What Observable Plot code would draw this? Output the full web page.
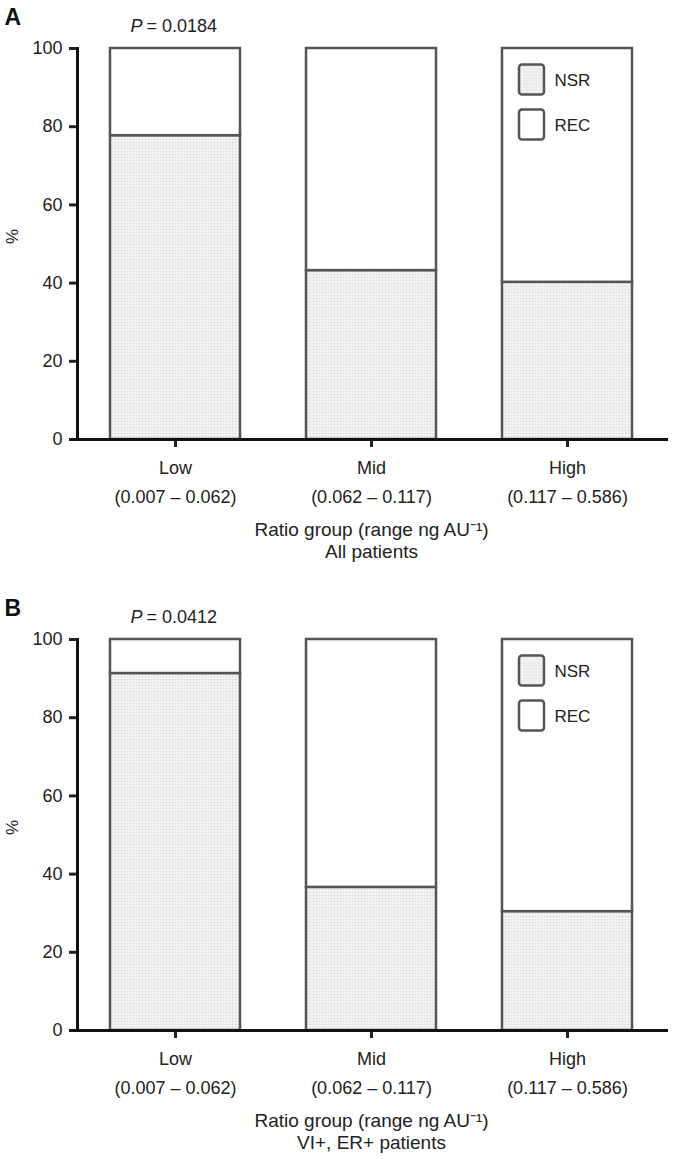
<!DOCTYPE html>
<html>
<head>
<meta charset="utf-8">
<script src="https://cdn.jsdelivr.net/npm/d3@7"></script>
<script src="https://cdn.jsdelivr.net/npm/@observablehq/plot@0.6"></script>
<style>
  body { margin: 0; background: white; }
  #chart svg { display: block; }
</style>
</head>
<body>
<div id="chart"></div>
<script>
const categories = ["Low", "Mid", "High"];
const ranges = ["(0.007 \u2013 0.062)", "(0.062 \u2013 0.117)", "(0.117 \u2013 0.586)"];
const nsrAll = [77.7, 43.2, 40.2];
const nsrVIER = [91.3, 36.6, 30.4];
const yTicks = [0, 20, 40, 60, 80, 100];
const legendLabels = ["NSR", "REC"];
const panelLetters = ["A", "B"];
const pValues = ["= 0.0184", "= 0.0412"];
const xTitle = "Ratio group (range ng AU\u207B\u00B9)";
const subgroups = ["All patients", "VI+, ER+ patients"];

const font = "'Liberation Sans', Arial, Helvetica, sans-serif";
const edge = "#555";

const swatch = {
  draw(ctx) {
    const w = 12.5, h = 15, r = 3;
    ctx.moveTo(-w + r, -h);
    ctx.arcTo(w, -h, w, h, r);
    ctx.arcTo(w, h, -w, h, r);
    ctx.arcTo(-w, h, -w, -h, r);
    ctx.arcTo(-w, -h, w, -h, r);
    ctx.closePath();
  }
};

function panel(idx, nsr, height, marginBottom) {
  const patId = "stipple" + idx;
  const fillPat = `url(#${patId})`;
  const rows = categories.map((c, i) => ({group: c, nsr: nsr[i], range: ranges[i]}));
  const legendNSR = [{group: "High", label: legendLabels[0]}];
  const legendREC = [{group: "High", label: legendLabels[1]}];
  const mid = {lineAnchor: "middle"};
  const svg = Plot.plot({
    width: 673,
    height,
    marginTop: 48,
    marginBottom,
    marginLeft: 77,
    marginRight: 8,
    style: {fontFamily: font, fontSize: "18px", color: "#222", background: "white", overflow: "visible"},
    x: {domain: categories, paddingInner: 0.337, paddingOuter: 0.1685, axis: null},
    y: {domain: [0, 100], axis: null},
    marks: [
      Plot.barY(rows, {x: "group", y1: 0, y2: "nsr", fill: fillPat, stroke: edge, strokeWidth: 2.5}),
      Plot.barY(rows, {x: "group", y1: "nsr", y2: 100, fill: "white", stroke: edge, strokeWidth: 2.5}),
      Plot.axisY({ticks: yTicks, tickSize: 8, tickPadding: 7, strokeWidth: 3, label: null, fontSize: 18}),
      Plot.frame({anchor: "left", strokeWidth: 3, stroke: "#111"}),
      Plot.axisX({tickSize: 8, tickFormat: () => "", label: null, strokeWidth: 3}),
      Plot.ruleY([0], {strokeWidth: 3, stroke: "#111", insetLeft: -7, insetRight: -3}),
      Plot.text(rows, {x: "group", text: "group", frameAnchor: "bottom", dy: 29, fontSize: 18, ...mid}),
      Plot.text(rows, {x: "group", text: "range", frameAnchor: "bottom", dy: 58, fontSize: 18, ...mid}),
      Plot.text([xTitle], {text: d => d, frameAnchor: "bottom", dy: 90, fontSize: 19, ...mid}),
      Plot.text([subgroups[idx]], {text: d => d, frameAnchor: "bottom", dy: 112, fontSize: 19, ...mid}),
      Plot.text(["%"], {text: d => d, frameAnchor: "left", dx: -65, rotate: -90, fontSize: 17, ...mid}),
      Plot.text([panelLetters[idx]], {text: d => d, frameAnchor: "top-left", dx: -73, dy: -31, textAnchor: "start", fontWeight: "bold", fontSize: 23, fill: "#111", ...mid}),
      Plot.text([{group: "Low"}], {x: "group", text: () => "P", frameAnchor: "top", dy: -22, dx: -33, textAnchor: "end", fontStyle: "italic", fontSize: 18, ...mid}),
      Plot.text([{group: "Low"}], {x: "group", text: () => pValues[idx], frameAnchor: "top", dy: -22, dx: -29, textAnchor: "start", fontSize: 18, ...mid}),
      Plot.dot(legendNSR, {x: "group", frameAnchor: "top", dx: -36, dy: 31, symbol: swatch, fill: fillPat, stroke: edge, strokeWidth: 2.5}),
      Plot.dot(legendREC, {x: "group", frameAnchor: "top", dx: -36, dy: 76, symbol: swatch, fill: "white", stroke: edge, strokeWidth: 2.5}),
      Plot.text(legendNSR, {x: "group", text: "label", frameAnchor: "top", dx: -13, dy: 32, textAnchor: "start", fontSize: 17, ...mid}),
      Plot.text(legendREC, {x: "group", text: "label", frameAnchor: "top", dx: -13, dy: 77, textAnchor: "start", fontSize: 17, ...mid})
    ]
  });
  const d3svg = d3.select(svg);
  const pat = d3svg.insert("defs", ":first-child").append("pattern")
    .attr("id", patId).attr("width", 3).attr("height", 3).attr("patternUnits", "userSpaceOnUse");
  pat.append("rect").attr("width", 3).attr("height", 3).attr("fill", "#f3f3f3");
  pat.append("circle").attr("cx", 1.5).attr("cy", 1.5).attr("r", 0.8).attr("fill", "#d9d9d9");
  return svg;
}

const a = panel(0, nsrAll, 591, 152);
const b = panel(1, nsrVIER, 568, 129);
document.getElementById("chart").append(a, b);
</script>
</body>
</html>
